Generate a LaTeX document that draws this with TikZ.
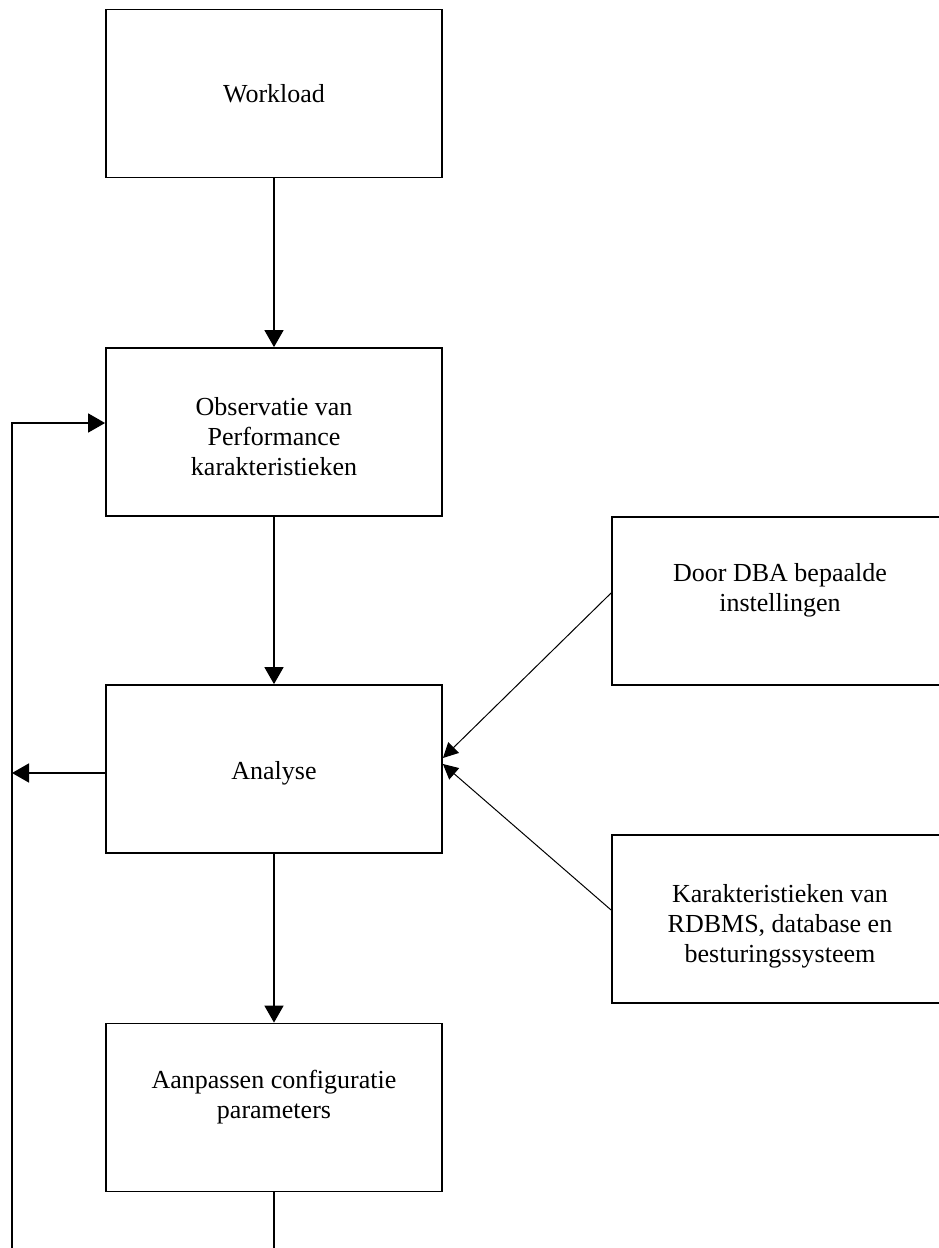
\documentclass[tikz,border=0pt]{standalone}
\usepackage{fontspec}
\setmainfont{Liberation Serif}
\usetikzlibrary{arrows.meta,positioning,calc}

\begin{document}
\begin{tikzpicture}[x=1pt, y=-1pt,
    box/.style={rectangle, draw, line width=1.8pt, minimum width=336pt, minimum height=168pt},
    txt/.style={align=center, font=\fontsize{26}{30}\selectfont},
    flow/.style={line width=1.6pt, -{Triangle[length=17pt,width=19pt]}},
    feed/.style={line width=1pt, -{Triangle[length=15pt,width=15pt]}}
]
    \useasboundingbox (0,0) rectangle (939,1248);
    \clip (0,0) rectangle (939,1248);

    % boxes
    \node[box] (work) at (274,93.5) {};
    \node[box] (obs) at (274,432) {};
    \node[box] (ana) at (274,769) {};
    \node[box] (aanp) at (274,1107.5) {};
    \node[box] (dba) at (780,601) {};
    \node[box] (kar) at (780,919) {};

    % texts
    \node[txt] (workT) at (work.center) {Workload};
    \node[txt] (obsT) at ([yshift=-5pt]obs.center) {Observatie van\\Performance\\karakteristieken};
    \node[txt] (anaT) at ([yshift=-4pt]ana.center) {Analyse};
    \node[txt] (aanpT) at ([yshift=10pt]aanp.center) {Aanpassen configuratie\\parameters};
    \node[txt] (dbaT) at ([yshift=11pt]dba.center) {Door DBA bepaalde\\instellingen};
    \node[txt] (karT) at ([yshift=-7pt]kar.center) {Karakteristieken van\\RDBMS, database en\\besturingssysteem};

    % loop back at the left edge
    \coordinate (fbtop) at (12,423);
    \coordinate (fbmid) at (12,773);
    \coordinate (fbbot) at (12,1248);
    \coordinate (outbot) at (274,1248);

    \draw[flow] (work) -- (obs);
    \draw[flow] (obs) -- (ana);
    \draw[flow] (ana) -- (aanp);
    \draw[line width=1.6pt] (aanp) -- (outbot);
    \draw[flow] (fbbot) -- (fbtop) -- (fbtop -| obs.west);
    \draw[flow] ([yshift=-4pt]ana.west) -- (fbmid);

    \draw[feed] ([yshift=8pt]dba.west) -- ([yshift=11pt]ana.east);
    \draw[feed] ([yshift=9pt]kar.west) -- ([yshift=5pt]ana.east);
\end{tikzpicture}
\end{document}
